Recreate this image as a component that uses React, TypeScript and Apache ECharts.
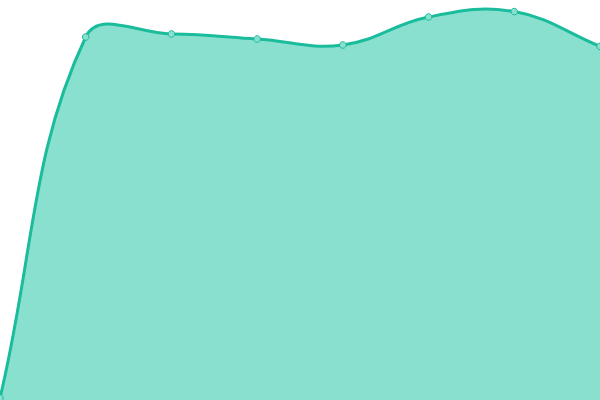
import React, { useEffect, useRef } from "react";
import * as echarts from "echarts";

const categories = ["A", "B", "C", "D", "E", "F", "G", "H"];
const values = [0.5, 90.75, 91.5, 90.25, 88.75, 95.75, 97.1, 88.4];

const LINE = "#1abc9c";
const FILL = "#8ae0cf";
const TENSION = 0.4;

type P = { x: number; y: number };

function controlPoints(pts: P[], t: number) {
  return pts.map((cur, i) => {
    const prev = pts[i - 1] || cur;
    const next = pts[i + 1] || cur;
    const d01 = Math.hypot(cur.x - prev.x, cur.y - prev.y);
    const d12 = Math.hypot(next.x - cur.x, next.y - cur.y);
    let s01 = d01 / (d01 + d12);
    let s12 = d12 / (d01 + d12);
    if (isNaN(s01)) s01 = 0;
    if (isNaN(s12)) s12 = 0;
    const fa = t * s01;
    const fb = t * s12;
    return {
      prev: { x: cur.x - fa * (next.x - prev.x), y: cur.y - fa * (next.y - prev.y) },
      next: { x: cur.x + fb * (next.x - prev.x), y: cur.y + fb * (next.y - prev.y) },
    };
  });
}

export default function App() {
  const ref = useRef<HTMLDivElement>(null);
  useEffect(() => {
    if (!ref.current) return;
    const chart = echarts.init(ref.current, null, { renderer: "svg" });
    chart.setOption({
      animation: false,
      grid: { left: 0, right: 0, top: 0, bottom: 0 },
      xAxis: {
        type: "category",
        data: categories,
        boundaryGap: false,
        show: false,
      },
      yAxis: { type: "value", min: 0, max: 100, show: false },
      series: [
        {
          type: "custom",
          clip: false,
          data: values.map((v, i) => [i, v]),
          encode: { x: 0, y: 1 },
          renderItem: (params: any, api: any) => {
            const c = api.coord([api.value(0), api.value(1)]);
            const dot = {
              type: "circle",
              shape: { cx: c[0], cy: c[1], r: 3.3 },
              style: { fill: FILL, stroke: LINE, lineWidth: 1 },
              z2: 10,
            };
            if (params.dataIndex !== 0) return dot;
            const pts: P[] = values.map((v, i) => {
              const p = api.coord([i, v]);
              return { x: p[0], y: p[1] };
            });
            const cps = controlPoints(pts, TENSION);
            let d = `M${pts[0].x},${pts[0].y}`;
            for (let i = 0; i < pts.length - 1; i++) {
              const a = cps[i].next;
              const b = cps[i + 1].prev;
              const e = pts[i + 1];
              d += ` C${a.x},${a.y} ${b.x},${b.y} ${e.x},${e.y}`;
            }
            const bottom = api.coord([0, 0])[1];
            const area =
              d +
              ` L${pts[pts.length - 1].x},${bottom} L${pts[0].x},${bottom} Z`;
            return {
              type: "group",
              children: [
                {
                  type: "path",
                  shape: { pathData: area },
                  style: { fill: FILL, stroke: null },
                },
                {
                  type: "path",
                  shape: { pathData: d },
                  style: { fill: null, stroke: LINE, lineWidth: 3 },
                },
                dot,
              ],
            };
          },
        },
      ],
    });
    return () => chart.dispose();
  }, []);
  return (
    <div
      ref={ref}
      style={{ position: "absolute", left: 0, top: 0, width: 600, height: 400 }}
    />
  );
}
